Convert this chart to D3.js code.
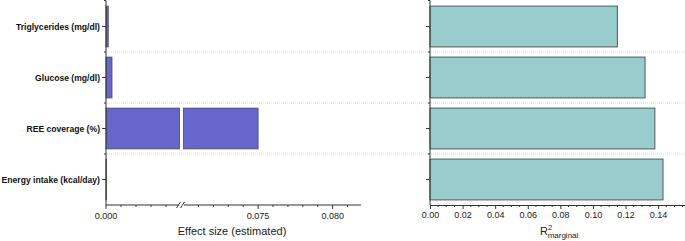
<!DOCTYPE html>
<html>
<head>
<meta charset="utf-8">
<script src="https://d3js.org/d3.v7.min.js"></script>
<style>
  body { margin: 0; background: #fff; }
  text { font-family: "Liberation Sans", Arial, sans-serif; }
</style>
</head>
<body>
<div id="chart"></div>
<script>

// data
var categories = ["Triglycerides (mg/dl)", "Glucose (mg/dl)", "REE coverage (%)", "Energy intake (kcal/day)"];
var effectSize = [0.00015, 0.0004, 0.075, 0.00003];
var r2marginal = [0.115, 0.132, 0.138, 0.143];
var leftTicks = [0.000, 0.075, 0.080];
var rightTicks = [0, 0.02, 0.04, 0.06, 0.08, 0.10, 0.12, 0.14];

var W = 685, H = 241;
var axisY = 205;

var svg = d3.select("#chart").append("svg")
    .attr("width", W).attr("height", H);

// shared row scale
var y = d3.scaleBand()
    .domain(categories)
    .range([1, axisY])
    .paddingInner(0.2)
    .paddingOuter(0.1);

// broken x scale for the left panel
var seg1 = d3.scaleLinear().domain([0, 0.0049]).range([106, 179.5]);
var seg2 = d3.scaleLinear().domain([0.070, 0.0819]).range([183.5, 361]);
function xL(v) { return v <= seg1.domain()[1] ? seg1(v) : seg2(v); }

var xR = d3.scaleLinear().domain([0, 0.1565]).range([430, 685]);

var axisCol = "#333";

// dotted row separators
var bounds = categories.slice(1).map(function(c) { return y(c) - y.step() * y.paddingInner() / 2; });
svg.append("g").selectAll("line")
  .data(bounds).enter().append("line")
    .attr("x1", 107).attr("x2", 685)
    .attr("y1", function(d) { return d; }).attr("y2", function(d) { return d; })
    .attr("stroke", "#d8d8d8").attr("stroke-width", 1)
    .attr("stroke-dasharray", "1,1");

// ---- left panel bars
var barsL = svg.append("g");
categories.forEach(function(c, i) {
  var v = effectSize[i];
  var pieces = v > seg1.domain()[1]
    ? [[0, seg1.domain()[1]], [seg2.domain()[0], v]]
    : [[0, v]];
  pieces.forEach(function(p) {
    barsL.append("rect")
      .attr("x", xL(p[0]))
      .attr("y", y(c))
      .attr("width", Math.max(0.5, xL(p[1]) - xL(p[0])))
      .attr("height", y.bandwidth())
      .attr("fill", "#6666cc")
      .attr("stroke", "#4a4a5a").attr("stroke-width", 0.8);
  });
});

// ---- right panel bars
svg.append("g").selectAll("rect")
  .data(categories).enter().append("rect")
    .attr("x", xR(0))
    .attr("y", function(d) { return y(d); })
    .attr("width", function(d, i) { return xR(r2marginal[i]) - xR(0); })
    .attr("height", y.bandwidth())
    .attr("fill", "#99cccc")
    .attr("stroke", "#4d5a5a").attr("stroke-width", 1);

// ---- y axes
function yAxis(x0, withLabels) {
  var g = svg.append("g");
  g.append("line").attr("x1", x0).attr("x2", x0).attr("y1", 0.5).attr("y2", axisY)
    .attr("stroke", axisCol).attr("stroke-width", 1);
  categories.forEach(function(c) {
    var cy = y(c) + y.bandwidth() / 2;
    g.append("line").attr("x1", x0 - 4).attr("x2", x0).attr("y1", cy).attr("y2", cy)
      .attr("stroke", axisCol);
    if (withLabels) {
      g.append("text").attr("x", x0 - 6).attr("y", cy + 3)
        .attr("text-anchor", "end").attr("font-size", 8.6).attr("font-weight", "bold")
        .attr("fill", "#111").text(c);
    }
  });
  [0.5].concat(bounds).forEach(function(b) {
    g.append("line").attr("x1", x0 - 2).attr("x2", x0).attr("y1", b).attr("y2", b)
      .attr("stroke", axisCol);
  });
}
yAxis(106, true);
yAxis(430, false);

// ---- left x axis (broken)
var gxL = svg.append("g");
gxL.append("line").attr("x1", 106).attr("x2", 179).attr("y1", axisY).attr("y2", axisY).attr("stroke", axisCol);
gxL.append("line").attr("x1", 184).attr("x2", 361).attr("y1", axisY).attr("y2", axisY).attr("stroke", axisCol);
[178, 182].forEach(function(bx) {
  gxL.append("line").attr("x1", bx - 1.5).attr("x2", bx + 2.5).attr("y1", axisY + 3).attr("y2", axisY - 3)
    .attr("stroke", axisCol);
});
var minorL = d3.range(1, 5).map(function(k) { return k * 0.001; })
  .concat(d3.range(71, 82).filter(function(k) { return k !== 75 && k !== 80; }).map(function(k) { return k / 1000; }));
minorL.forEach(function(v) {
  gxL.append("line").attr("x1", xL(v)).attr("x2", xL(v)).attr("y1", axisY).attr("y2", axisY + 2)
    .attr("stroke", axisCol);
});
leftTicks.forEach(function(v) {
  gxL.append("line").attr("x1", xL(v)).attr("x2", xL(v)).attr("y1", axisY).attr("y2", axisY + 4)
    .attr("stroke", axisCol);
  gxL.append("text").attr("x", xL(v)).attr("y", 219).attr("text-anchor", "middle")
    .attr("font-size", 9).attr("fill", "#222").text(d3.format(".3f")(v));
});
gxL.append("text").attr("x", 232).attr("y", 235).attr("text-anchor", "middle")
  .attr("font-size", 11).attr("fill", "#222").text("Effect size (estimated)");

// ---- right x axis
var gxR = svg.append("g").attr("transform", "translate(0," + axisY + ")")
  .call(d3.axisBottom(xR).tickValues(rightTicks).tickFormat(d3.format(".2f")).tickSize(4).tickSizeOuter(0));
gxR.select(".domain").attr("stroke", axisCol);
gxR.selectAll(".tick line").attr("stroke", axisCol);
gxR.selectAll(".tick text").attr("font-size", 9).attr("fill", "#222")
  .attr("font-family", "Liberation Sans, Arial, sans-serif").attr("dy", "0.85em").attr("y", 5);
d3.range(0, 0.156, 0.005).forEach(function(v) {
  if (Math.abs(Math.round(v / 0.02) * 0.02 - v) < 1e-9) return;
  svg.append("line").attr("x1", xR(v)).attr("x2", xR(v)).attr("y1", axisY).attr("y2", axisY + 2)
    .attr("stroke", axisCol);
});
var rt = svg.append("text").attr("x", 540).attr("y", 235).attr("font-size", 11).attr("fill", "#222");
rt.append("tspan").text("R");
rt.append("tspan").attr("font-size", 7.5).attr("dy", -5).attr("dx", 0).text("2");
rt.append("tspan").attr("font-size", 8).attr("dx", -4.5).attr("dy", 8).text("marginal");

</script>
</body>
</html>
